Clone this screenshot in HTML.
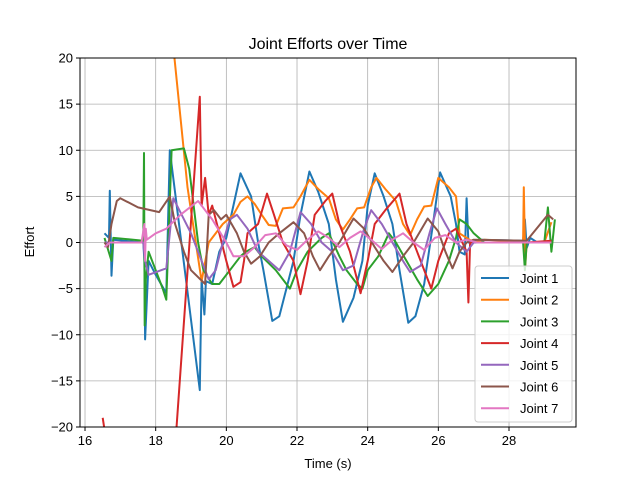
<!DOCTYPE html>
<html><head><meta charset="utf-8">
<style>
body{margin:0;background:#fff;}
svg{font-family:"Liberation Sans","DejaVu Sans",sans-serif;}
</style></head>
<body>
<svg id="chart" width="640" height="480" viewBox="0 0 640 480">
<rect width="640" height="480" fill="#fff"/>
<defs><clipPath id="pc"><rect x="80" y="58" width="496" height="369"/></clipPath></defs>
<g id="grid"></g>
<g id="series" clip-path="url(#pc)"></g>
<rect x="80" y="58" width="496" height="369" fill="none" stroke="#000" stroke-width="1"/>
<g id="ticks"></g>
<text x="328" y="49" text-anchor="middle" font-size="16">Joint Efforts over Time</text>
<text x="328" y="468" text-anchor="middle" font-size="13">Time (s)</text>
<text x="34" y="242" text-anchor="middle" font-size="13" transform="rotate(-90 34 242)">Effort</text>
<g id="legend"></g>
</svg>
<script>
const xTicks=[16,18,20,22,24,26,28];
const yTicks=[-20,-15,-10,-5,0,5,10,15,20];
const seriesNames=["Joint 1","Joint 2","Joint 3","Joint 4","Joint 5","Joint 6","Joint 7"];
const colors=["#1f77b4","#ff7f0e","#2ca02c","#d62728","#9467bd","#8c564b","#e377c2"];
const t1=[16.55,16.68,16.7,16.75,16.8,17.65,17.68,17.7,17.8,18.0,18.3,18.4,19.25,19.3,19.38,19.42,19.6,19.8,20.0,20.2,20.4,20.7,20.9,21.05,21.3,21.5,21.7,21.9,22.1,22.35,22.6,22.9,23.1,23.3,23.6,23.85,24.0,24.2,24.45,24.7,24.9,25.15,25.35,25.6,25.85,26.05,26.35,26.5,26.6,26.75,26.8,26.85,27.2,28.4,28.45,28.5,28.6,28.8,29.1,29.25];
const v1=[1,0.5,5.6,-3.6,0.3,0,-2,-10.5,-2,-3.5,-5.5,10,-16,-4,-7.8,-4.2,-4.5,-1,0.5,4,7.5,5,0,-3,-8.5,-8,-5,-2,3,7.7,5.5,2,-4,-8.6,-6,-2,4,7.5,5,2,-3,-8.7,-8,-4.5,2,7.6,5,2,-1,-1.3,4.8,0,0.3,0.2,2.5,-0.6,0.5,0,0,0.3];
const t2=[18.4,18.9,19.3,19.5,19.9,20.2,20.4,20.6,20.8,21.0,21.2,21.4,21.6,21.9,22.1,22.35,22.6,22.9,23.1,23.3,23.5,23.7,23.9,24.1,24.25,24.5,24.8,25.0,25.2,25.4,25.6,25.8,26.0,26.3,26.5,26.6,26.8,27.0,27.3,28.4,28.42,28.46,28.5,29.0,29.2];
const v2=[25,6,-4.2,0,2,3,4.4,5,4.2,3,1.9,1.8,3.7,3.8,5,6.8,5.8,4.8,2.5,1.4,2.5,3.7,3.8,6,7,5.8,4.5,2,0.8,2.5,3.9,4,7,6,5,1,0.5,0,0.3,0.1,6,-2.5,0,0,2.2];
const t3=[16.55,16.75,16.8,17.65,17.67,17.69,17.72,17.8,18.0,18.2,18.3,18.45,18.8,18.95,19.2,19.35,19.6,19.8,20.1,20.4,20.55,20.8,21.0,21.4,21.7,21.8,22.0,22.3,22.7,22.9,23.2,23.4,23.7,23.85,24.0,24.3,24.6,24.8,25.1,25.4,25.7,26.0,26.3,26.5,26.6,26.8,27.0,27.3,28.4,28.45,28.5,28.8,29.0,29.1,29.2,29.3];
const v3=[0.5,-2,0.5,0.2,9.7,-9,-4,-1,-3,-5,-6.2,10,10.2,8,0,-3,-4.5,-4.5,-3,-1.5,-1,-0.5,-1.5,-3,-4.5,-5,-3,-1,0.5,1,-1.5,-3,-4.5,-5,-3,-1.5,1,0,-2,-4,-5.8,-4.5,-2,0.5,2.5,2,1,0,0,-3,0,0,0,3.8,-1,2.5];
const t4=[16.5,16.58,18.5,19.25,19.3,19.4,19.5,19.6,19.8,20.0,20.2,20.4,20.5,20.6,20.9,21.15,21.35,21.6,21.9,22.1,22.3,22.5,22.8,23.0,23.2,23.5,23.8,24.0,24.2,24.5,24.9,25.1,25.4,25.8,26.0,26.3,26.5,26.8,26.85,26.9,27.2,28.5,29.2];
const v4=[-19,-21,-25,15.8,4,7,3,4,1,-2,-4.8,-4.3,-2,1,2,5.3,3,0,-2,-5.6,-2,3,4.5,5.3,2,-1,-5.5,-2,2,3.5,5.3,2,-1,-5,-2,1,1.5,-1,-6.5,0,0,0,0.2];
const t5=[16.55,17.65,17.7,17.8,18.3,18.5,19.0,19.3,19.5,19.7,19.9,20.1,20.3,20.6,20.9,21.2,21.5,21.8,22.1,22.4,22.7,23.0,23.3,23.6,23.9,24.1,24.4,24.7,25.0,25.2,25.5,25.75,25.96,26.2,26.5,26.8,27.0,28.5,29.2];
const v5=[0,0,-2,-3.5,-2.8,4.8,1,-2,-4,-3,0,2.5,3,1.5,-1,-2,-3,-1,3.3,2,0,-1,-3,-2.5,1.5,3.5,2,0,-2,-3.2,-2.5,1,3.7,2,0,-1,0,0,0];
const t6=[16.55,16.65,16.75,16.9,17.0,17.5,18.1,18.4,18.55,18.8,19.0,19.4,19.5,19.65,19.85,20.0,20.3,20.5,20.7,20.95,21.2,21.5,21.9,22.2,22.45,22.65,22.9,23.2,23.6,23.9,24.2,24.45,24.7,25.0,25.3,25.7,26.0,26.2,26.4,26.6,26.8,27.0,28.5,29.1,29.25];
const v6=[0,-0.5,2,4.5,4.8,3.8,3.3,5,2,-1,-3,-4.5,3,3.5,2.5,3,1,-1,-2.3,-1.5,0,1,2.2,1,-1.5,-3,-1.5,0,2.6,1.5,-0.5,-2,-3.2,-1.5,0,2.6,1.2,-1,-2.8,-1,0,0.3,0.2,3,2.5];
const t7=[16.55,16.7,17.6,17.68,17.7,17.72,17.75,18.0,18.3,18.7,19.2,19.4,19.6,20.0,20.2,20.5,20.8,21.1,21.4,21.7,22.0,22.3,22.6,22.9,23.2,23.5,23.8,24.1,24.4,24.7,25.0,25.3,25.6,25.9,26.2,26.5,26.8,27.1,28.5,29.2];
const v7=[-0.5,0,0,2,-2,1.5,0.3,1,1.5,3,4.5,3.5,2.5,0,-1.5,-1.5,-0.5,0.8,1,-0.3,-0.8,0.3,1.2,0.5,-0.5,0.5,1.2,0.3,-0.7,0.3,1,0,-0.8,0.5,0.8,0,0.3,0,0,0];
const allT=[t1,t2,t3,t4,t5,t6,t7];
const allV=[v1,v2,v3,v4,v5,v6,v7];

const X0=80,X1=576,Y0=58,Y1=427;
const xMin=15.858,xMax=29.896,yMin=-20,yMax=20;
function xs(t){return X0+(t-xMin)/(xMax-xMin)*(X1-X0);}
function ys(v){return Y1-(v-yMin)/(yMax-yMin)*(Y1-Y0);}
const NS="http://www.w3.org/2000/svg";
const grid=document.getElementById('grid'),ticks=document.getElementById('ticks');
xTicks.forEach(t=>{
  const x=xs(t);
  const l=document.createElementNS(NS,'line');
  l.setAttribute('x1',x);l.setAttribute('x2',x);l.setAttribute('y1',Y0);l.setAttribute('y2',Y1);
  l.setAttribute('stroke','#b0b0b0');l.setAttribute('stroke-width','0.8');
  
  
  grid.appendChild(l);
  const tk=document.createElementNS(NS,'line');
  tk.setAttribute('x1',x);tk.setAttribute('x2',x);tk.setAttribute('y1',Y1);tk.setAttribute('y2',Y1+4);
  tk.setAttribute('stroke','#000');
  
  
  ticks.appendChild(tk);
  const tx=document.createElementNS(NS,'text');
  tx.setAttribute('x',x);tx.setAttribute('y',Y1+18);tx.setAttribute('text-anchor','middle');tx.setAttribute('font-size','13');
  tx.textContent=t;
  
  
  ticks.appendChild(tx);
});
yTicks.forEach(v=>{
  const y=ys(v);
  const l=document.createElementNS(NS,'line');
  l.setAttribute('x1',X0);l.setAttribute('x2',X1);l.setAttribute('y1',y);l.setAttribute('y2',y);
  l.setAttribute('stroke','#b0b0b0');l.setAttribute('stroke-width','0.8');
  
  
  grid.appendChild(l);
  const tk=document.createElementNS(NS,'line');
  tk.setAttribute('x1',X0-4);tk.setAttribute('x2',X0);tk.setAttribute('y1',y);tk.setAttribute('y2',y);
  tk.setAttribute('stroke','#000');
  
  
  ticks.appendChild(tk);
  const tx=document.createElementNS(NS,'text');
  tx.setAttribute('x',X0-7);tx.setAttribute('y',y+4.5);tx.setAttribute('text-anchor','end');tx.setAttribute('font-size','13');
  tx.textContent=(v<0?'\u2212'+(-v):v);
  
  
  ticks.appendChild(tx);
});
const sg=document.getElementById('series');
allT.forEach((ts,i)=>{
  const pts=ts.map((t,j)=>xs(t).toFixed(1)+','+ys(allV[i][j]).toFixed(1)).join(' ');
  const p=document.createElementNS(NS,'polyline');
  p.setAttribute('points',pts);p.setAttribute('fill','none');
  p.setAttribute('stroke',colors[i]);p.setAttribute('stroke-width','2');p.setAttribute('stroke-linejoin','round');
  
  
  sg.appendChild(p);
});
const lg=document.getElementById('legend');
const box=document.createElementNS(NS,'rect');
box.setAttribute('x',475);box.setAttribute('y',266);box.setAttribute('width',97);box.setAttribute('height',156);
box.setAttribute('rx',3);box.setAttribute('fill','#fff');box.setAttribute('fill-opacity','0.8');box.setAttribute('stroke','#ccc');


lg.appendChild(box);
seriesNames.forEach((n,i)=>{
  const y=278+i*21.7;
  const g=document.createElementNS(NS,'g');
  
  
  const l=document.createElementNS(NS,'line');
  l.setAttribute('x1',481);l.setAttribute('x2',509);l.setAttribute('y1',y);l.setAttribute('y2',y);
  l.setAttribute('stroke',colors[i]);l.setAttribute('stroke-width','2');
  g.appendChild(l);
  const t=document.createElementNS(NS,'text');
  t.setAttribute('x',520);t.setAttribute('y',y+5);t.setAttribute('font-size','13');t.textContent=n;
  g.appendChild(t);
  lg.appendChild(g);
});
</script>
</body></html>
